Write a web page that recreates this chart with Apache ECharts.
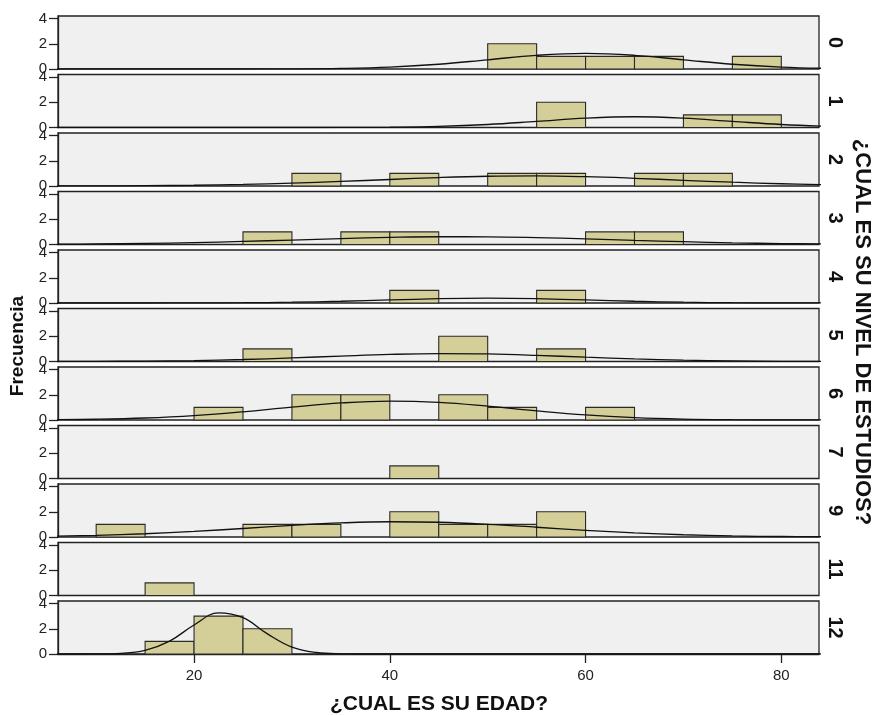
<!DOCTYPE html>
<html><head><meta charset="utf-8">
<script src="https://cdn.jsdelivr.net/npm/echarts@6/dist/echarts.min.js"></script>
<style>html,body{margin:0;padding:0;background:#fff}#c{width:876px;height:715px}</style>
</head><body><div id="c"></div>
<script>
// ---- data ----
const levels = ['0','1','2','3','4','5','6','7','9','11','12'];
const binStarts = [10,15,20,25,30,35,40,45,50,55,60,65,70,75];
const binWidth = 5;
const counts0  = [0,0,0,0,0,0,0,0,2,1,1,1,0,1];
const counts1  = [0,0,0,0,0,0,0,0,0,2,0,0,1,1];
const counts2  = [0,0,0,0,1,0,1,0,1,1,0,1,1,0];
const counts3  = [0,0,0,1,0,1,1,0,0,0,1,1,0,0];
const counts4  = [0,0,0,0,0,0,1,0,0,1,0,0,0,0];
const counts5  = [0,0,0,1,0,0,0,2,0,1,0,0,0,0];
const counts6  = [0,0,1,0,2,2,0,2,1,0,1,0,0,0];
const counts7  = [0,0,0,0,0,0,1,0,0,0,0,0,0,0];
const counts9  = [1,0,0,1,1,0,2,1,1,2,0,0,0,0];
const counts11 = [0,1,0,0,0,0,0,0,0,0,0,0,0,0];
const counts12 = [0,1,3,2,0,0,0,0,0,0,0,0,0,0];

const curveX = [5,10,15,20,25,30,35,40,45,50,55,60,65,70,75,80,85];
const curve0 = [0,0,0,0.0002,0.0018,0.010,0.045,0.148,0.375,0.729,1.085,1.24,1.085,0.729,0.375,0.148,0.045];
const curve1 = [0,0,0,0,0.0001,0.0008,0.005,0.025,0.088,0.237,0.482,0.738,0.85,0.738,0.482,0.237,0.088];
const curve2 = [0.004,0.011,0.027,0.061,0.123,0.222,0.359,0.517,0.668,0.772,0.798,0.738,0.611,0.453,0.300,0.178,0.095];
const curve3 = [0.020,0.043,0.084,0.149,0.241,0.353,0.468,0.563,0.615,0.609,0.547,0.446,0.329,0.221,0.134,0.074,0.037];
const curve4 = [0,0.0003,0.0015,0.0064,0.022,0.062,0.137,0.241,0.339,0.38,0.339,0.241,0.137,0.062,0.022,0.0064,0.0015];
const curve5 = [0.003,0.011,0.031,0.075,0.157,0.281,0.430,0.563,0.628,0.599,0.488,0.340,0.202,0.103,0.045,0.017,0.005];
const curve6 = [0.019,0.059,0.157,0.349,0.651,1.023,1.35,1.5,1.398,1.097,0.723,0.401,0.187,0.073,0.024,0.007,0.002];
const curve9 = [0.063,0.135,0.259,0.442,0.675,0.918,1.114,1.207,1.167,1.006,0.773,0.531,0.325,0.177,0.086,0.038,0.015];
const curveX12 = [5,7.5,10,12.5,15,17.5,20,22.5,25,27.5,30,32.5,35,37.5,40,45,50,55,60,65,70,75,80,85];
const curve12  = [0,0.0003,0.005,0.048,0.28,1.015,2.30,3.256,2.88,1.594,0.551,0.119,0.016,0.0014,0.0001,0,0,0,0,0,0,0,0,0];

const xTicks = [20,40,60,80];
const yTicks = [0,2,4];
const xTitle = '¿CUAL ES SU EDAD?';
const yTitle = 'Frecuencia';
const panelTitle = '¿CUAL ES SU NIVEL DE ESTUDIOS?';

const panelCounts = [counts0,counts1,counts2,counts3,counts4,counts5,counts6,counts7,counts9,counts11,counts12];
const panelCurves = [
  [curveX,curve0],[curveX,curve1],[curveX,curve2],[curveX,curve3],[curveX,curve4],
  [curveX,curve5],[curveX,curve6],null,[curveX,curve9],null,[curveX12,curve12]
];

// ---- layout ----
const FONT = '"Liberation Sans", Arial, sans-serif';
const L = 58, W = 761, TOP0 = 16, PITCH = 58.5, H = 53;
const XMIN = 6.1, XMAX = 83.85, YMAX = 4.2;
const N = levels.length;

const grids = [], xAxes = [], yAxes = [], series = [], graphics = [];
for (let i = 0; i < N; i++) {
  const last = i === N - 1;
  grids.push({left: L, top: TOP0 + i * PITCH, width: W, height: H, show: true,
    backgroundColor: '#f0f0f0', borderColor: '#222', borderWidth: 1.3});
  xAxes.push({gridIndex: i, type: 'value', min: XMIN, max: XMAX,
    axisLine: {show: last, onZero: false, lineStyle: {color: '#222', width: 1.3}}, splitLine: {show: false},
    axisTick: {show: last, customValues: xTicks, length: 9, lineStyle: {color: '#222', width: 1.3}},
    axisLabel: {show: last, customValues: xTicks, color: '#222', fontSize: 15, fontFamily: FONT, margin: 14}});
  yAxes.push({gridIndex: i, type: 'value', min: 0, max: YMAX,
    axisLine: {show: true, onZero: false, lineStyle: {color: '#222', width: 1.3}}, splitLine: {show: false},
    axisTick: {show: true, customValues: yTicks, length: 9, lineStyle: {color: '#222', width: 1.3}},
    axisLabel: {customValues: yTicks, color: '#222', fontSize: 15, fontFamily: FONT, margin: 11}});
  const bars = [];
  panelCounts[i].forEach((c, k) => { if (c > 0) bars.push([binStarts[k], binStarts[k] + binWidth, c]); });
  series.push({type: 'custom', xAxisIndex: i, yAxisIndex: i, data: bars,
    encode: {x: [0, 1], y: 2}, z: 2, silent: true,
    renderItem: function (params, api) {
      const p1 = api.coord([api.value(0), api.value(2)]);
      const p2 = api.coord([api.value(1), 0]);
      return {type: 'rect', shape: {x: p1[0], y: p1[1], width: p2[0] - p1[0], height: p2[1] - p1[1]},
        style: {fill: '#d4cf98', stroke: '#2a2a2a', lineWidth: 1.1}};
    }});
  if (panelCurves[i]) {
    const [xs, ys] = panelCurves[i];
    series.push({type: 'line', xAxisIndex: i, yAxisIndex: i, z: 3, silent: true,
      data: xs.map((x, k) => [x, ys[k]]), smooth: 0.4,
      showSymbol: false, clip: true, lineStyle: {color: '#111', width: 1.3}});
  }
  graphics.push({type: 'text', x: 835, y: TOP0 + i * PITCH + H / 2, rotation: -Math.PI / 2,
    style: {text: levels[i], fill: '#111', font: 'bold 20px ' + FONT, align: 'center', verticalAlign: 'middle'}});
}
graphics.push({type: 'text', x: 862, y: 332, rotation: -Math.PI / 2,
  style: {text: panelTitle, fill: '#111', font: 'bold 22px ' + FONT, align: 'center', verticalAlign: 'middle'}});
graphics.push({type: 'text', x: 18, y: 346, rotation: Math.PI / 2,
  style: {text: yTitle, fill: '#111', font: 'bold 19px ' + FONT, align: 'center', verticalAlign: 'middle'}});
graphics.push({type: 'text', x: 439, y: 704,
  style: {text: xTitle, fill: '#111', font: 'bold 21px ' + FONT, align: 'center', verticalAlign: 'middle'}});

const chart = echarts.init(document.getElementById('c'), null, {renderer: 'canvas'});
chart.setOption({animation: false, backgroundColor: '#fff', grid: grids, xAxis: xAxes, yAxis: yAxes,
  series: series, graphic: graphics});
</script></body></html>
